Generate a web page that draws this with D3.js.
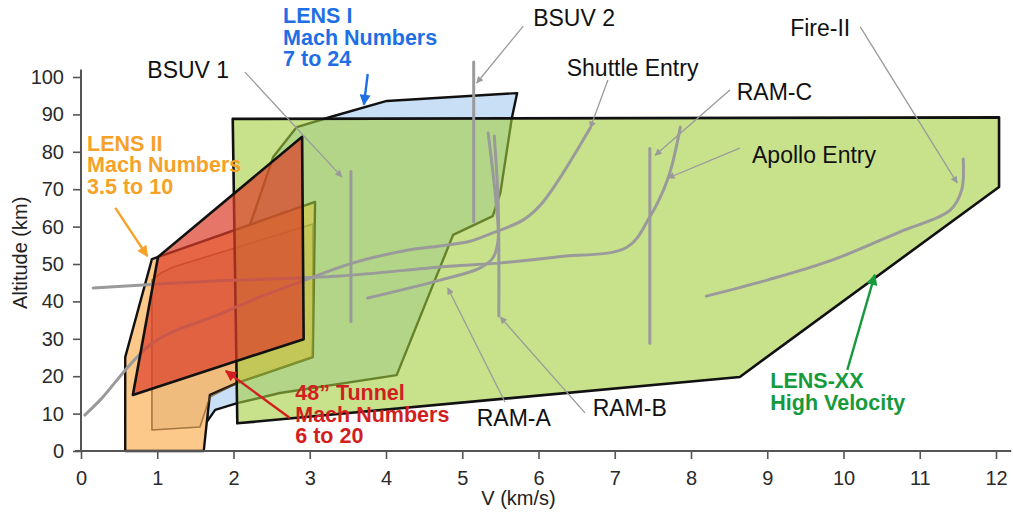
<!DOCTYPE html>
<html>
<head>
<meta charset="utf-8">
<script src="https://cdn.jsdelivr.net/npm/d3@7"></script>
<style>
  body { margin: 0; background: #fff; }
  svg { display: block; font-family: "Liberation Sans", Arial, sans-serif; }
</style>
</head>
<body>
<svg id="chart" width="1013" height="519"></svg>
<script>
// facility envelopes, [V km/s, altitude km]
var lensXX = [[1.99, 88.8], [12.04, 89.2], [12.04, 70.6], [8.64, 19.8], [2.05, 7.4]];
var lensI = [[5.72, 95.7], [4.01, 93.6], [3.27, 89.3], [2.83, 86.6], [2.52, 78.6], [2.09, 52.9],
             [1.67, 13.6], [1.65, 7.8], [1.76, 11.0], [2.05, 12.8], [2.61, 15.5], [4.14, 20.3],
             [4.88, 57.8], [5.40, 62.8], [5.50, 69.0], [5.65, 89.0]];
var lensII = [[0.58, 0], [0.58, 25.1], [0.93, 51.3], [3.07, 66.6], [3.04, 25.1],
              [2.05, 18.2], [1.69, 15.0], [1.65, 7.8], [1.61, 0]];
var lensIIinner = [[0.93, 5.6], [0.93, 45.7], [1.05, 47.6], [1.21, 49.2], [2.02, 54.3], [3.04, 60.7],
                   [3.04, 25.1], [2.05, 18.2], [1.69, 14.4], [1.56, 6.4]];
var tunnel48 = [[1.01, 51.9], [0.68, 15.0], [2.92, 29.9], [2.90, 84.0]];

// flight trajectories
var bsuv1 = [[3.54, 74.7], [3.54, 34.6]];
var bsuv2 = [[5.15, 104.0], [5.15, 61.3]];
var ramC = [[7.46, 80.9], [7.46, 28.8]];
var ramB = [[5.42, 84.2], [5.47, 67.1], [5.48, 51.1], [5.48, 36.1]];
var ramA = [[3.76, 40.9], [4.71, 45.7], [5.23, 48.9], [5.40, 51.6], [5.47, 56.4], [5.44, 67.1], [5.34, 85.0]];
var shuttle = [[0.05, 9.6], [0.25, 13.6], [0.94, 28.9], [1.82, 36.6], [2.35, 41.2], [2.91, 45.5],
               [3.57, 50.3], [4.28, 53.7], [4.71, 54.8], [5.10, 56.1], [5.36, 58.0], [5.80, 61.8],
               [6.06, 66.6], [6.68, 86.4]];
var apollo = [[0.16, 43.6], [1.82, 45.5], [3.40, 46.8], [4.71, 49.2], [5.50, 50.3], [6.24, 51.9],
              [7.16, 54.5], [7.46, 62.6], [7.70, 73.0], [7.86, 86.6]];
var fire2 = [[8.20, 41.4], [9.00, 45.7], [9.86, 51.1], [10.74, 58.6], [11.40, 64.4], [11.55, 69.8], [11.57, 78.1]];

var xTicks = [0, 1, 2, 3, 4, 5, 6, 7, 8, 9, 10, 11, 12];
var yTicks = [0, 10, 20, 30, 40, 50, 60, 70, 80, 90, 100];

var svg = d3.select("#chart");
var x = d3.scaleLinear().domain([0, 12]).range([81, 996]);
var y = d3.scaleLinear().domain([0, 100]).range([451, 77]);

var poly = d3.line().x(function(d){ return x(d[0]); }).y(function(d){ return y(d[1]); });
var smooth = d3.line().x(function(d){ return x(d[0]); }).y(function(d){ return y(d[1]); })
    .curve(d3.curveCatmullRom.alpha(0.5));

function area(pts, fill, opts){
    opts = opts || {};
    svg.append("path")
        .attr("d", poly(pts) + "Z")
        .attr("fill", fill)
        .attr("fill-opacity", opts.fo == null ? 1 : opts.fo)
        .attr("stroke", opts.stroke || "#111")
        .attr("stroke-width", opts.sw || 2.4)
        .attr("stroke-linejoin", "round");
}

// layers, bottom to top
area(lensI, "#c8dff5");
area(lensII, "#fdc98b");
area(lensIIinner, "#96641e", {fo: 0.13, stroke: "rgba(110,70,20,0.6)", sw: 1.6});
area(lensXX, "#a3cf3f", {fo: 0.6, stroke: "none"});
area(lensXX, "none", {sw: 2.6});

var tracks = [bsuv1, bsuv2, ramC, ramB, ramA, shuttle, apollo, fire2];
svg.append("g").selectAll("path")
    .data(tracks)
    .enter()
    .append("path")
    .attr("d", function(d){ return d.length > 2 ? smooth(d) : poly(d); })
    .attr("fill", "none")
    .attr("stroke", "#9a9a9a")
    .attr("stroke-width", 3)
    .attr("stroke-linecap", "round");

area(tunnel48, "#dc3c28", {fo: 0.7, sw: 2.6});

// axes
var xAxis = d3.axisBottom(x).tickValues(xTicks).tickSize(8).tickPadding(12).tickSizeOuter(0);
var yAxis = d3.axisLeft(y).tickValues(yTicks).tickSize(8).tickPadding(9).tickSizeOuter(0);

var gx = svg.append("g").attr("transform", "translate(0," + y(0) + ")").call(xAxis);
var gy = svg.append("g").attr("transform", "translate(" + x(0) + ",0)").call(yAxis);
[gx, gy].forEach(function(g){
    g.select(".domain").remove();
    g.selectAll(".tick line").attr("stroke", "#555").attr("stroke-width", 1.6);
    g.selectAll(".tick text").attr("fill", "#2a2a2a").style("font-size", "20px")
        .style("font-family", "'Liberation Sans', Arial, sans-serif");
});
svg.append("line")
    .attr("x1", x(-0.08)).attr("x2", x(12.2))
    .attr("y1", y(0)).attr("y2", y(0))
    .attr("stroke", "#555").attr("stroke-width", 2);
svg.append("line")
    .attr("x1", x(0)).attr("x2", x(0))
    .attr("y1", y(0)).attr("y2", y(102))
    .attr("stroke", "#555").attr("stroke-width", 2);

svg.append("text")
    .attr("x", (x(0) + x(12)) / 2 - 20).attr("y", 505)
    .attr("text-anchor", "middle")
    .style("font-size", "20px").attr("fill", "#222")
    .text("V (km/s)");
svg.append("text")
    .attr("transform", "translate(27," + y(53) + ") rotate(-90)")
    .attr("text-anchor", "middle")
    .style("font-size", "20px").attr("fill", "#222")
    .text("Altitude (km)");

// arrow markers
var defs = svg.append("defs");
function marker(id, color, w, h){
    defs.append("marker")
        .attr("id", id)
        .attr("viewBox", "0 0 10 10")
        .attr("refX", 9).attr("refY", 5)
        .attr("markerUnits", "userSpaceOnUse")
        .attr("markerWidth", w).attr("markerHeight", h)
        .attr("orient", "auto")
        .append("path")
        .attr("d", "M0,0L10,5L0,10Z")
        .attr("fill", color);
}
marker("mGray", "#9a9a9a", 9, 7);
marker("mBlue", "#1e6fe6", 13, 11);
marker("mOrange", "#f6a127", 13, 11);
marker("mRed", "#d21e1e", 13, 11);
marker("mGreen", "#179a3c", 13, 11);

// trajectory call-outs
var notes = [
    {text: "BSUV 1", at: [0.87, 101.9], from: [2.15, 101.3], to: [3.42, 73.3]},
    {text: "BSUV 2", at: [5.93, 115.8], from: [5.80, 113.6], to: [5.19, 98.4]},
    {text: "Shuttle Entry", at: [6.37, 102.4], from: [6.91, 99.2], to: [6.68, 86.4]},
    {text: "RAM-C", at: [8.60, 96.0], from: [8.51, 96.5], to: [7.53, 79.1]},
    {text: "Apollo Entry", at: [8.80, 79.1], from: [8.64, 81.0], to: [7.70, 73.0]},
    {text: "Fire-II", at: [9.30, 113.1], from: [10.22, 113.4], to: [11.49, 71.7]},
    {text: "RAM-A", at: [5.19, 8.8], from: [5.56, 13.1], to: [4.81, 43.6]},
    {text: "RAM-B", at: [6.71, 11.5], from: [6.61, 10.2], to: [5.50, 35.8]}
];
var lg = svg.append("g");
lg.selectAll("line")
    .data(notes)
    .enter()
    .append("line")
    .attr("x1", function(d){ return x(d.from[0]); })
    .attr("y1", function(d){ return y(d.from[1]); })
    .attr("x2", function(d){ return x(d.to[0]); })
    .attr("y2", function(d){ return y(d.to[1]); })
    .attr("stroke", "#9a9a9a")
    .attr("stroke-width", 1.3)
    .attr("marker-end", "url(#mGray)");
lg.selectAll("text")
    .data(notes)
    .enter()
    .append("text")
    .attr("x", function(d){ return x(d.at[0]); })
    .attr("y", function(d){ return y(d.at[1]); })
    .attr("dy", "0.36em")
    .style("font-size", "23px")
    .attr("fill", "#111")
    .text(function(d){ return d.text; });

// facility call-outs
var facilities = [
    {lines: ["LENS I", "Mach Numbers", "7 to 24"], color: "#1e6fe6", m: "mBlue",
     at: [2.65, 114.4], from: [3.76, 100.8], to: [3.71, 92.6]},
    {lines: ["LENS II", "Mach Numbers", "3.5 to 10"], color: "#f6a127", m: "mOrange",
     at: [0.08, 80.3], from: [0.45, 65.0], to: [0.87, 52.1]},
    {lines: ["48\u201D Tunnel", "Mach Numbers", "6 to 20"], color: "#d21e1e", m: "mRed",
     at: [2.81, 13.6], from: [2.74, 8.8], to: [1.90, 21.4]},
    {lines: ["LENS-XX", "High Velocity"], color: "#179a3c", m: "mGreen",
     at: [9.04, 16.8], from: [10.05, 21.7], to: [10.41, 47.1]}
];
var fg = svg.append("g");
facilities.forEach(function(f){
    fg.append("line")
        .attr("x1", x(f.from[0])).attr("y1", y(f.from[1]))
        .attr("x2", x(f.to[0])).attr("y2", y(f.to[1]))
        .attr("stroke", f.color)
        .attr("stroke-width", 2.4)
        .attr("marker-end", "url(#" + f.m + ")");
    var t = fg.append("text")
        .attr("x", x(f.at[0]))
        .attr("y", y(f.at[1]))
        .attr("dy", "0.36em")
        .style("font-size", "21.5px")
        .style("font-weight", "bold")
        .attr("fill", f.color);
    t.selectAll("tspan")
        .data(f.lines)
        .enter()
        .append("tspan")
        .attr("x", x(f.at[0]))
        .attr("dy", function(d, i){ return i ? 21.5 : 0; })
        .text(function(d){ return d; });
});
</script>
</body>
</html>
